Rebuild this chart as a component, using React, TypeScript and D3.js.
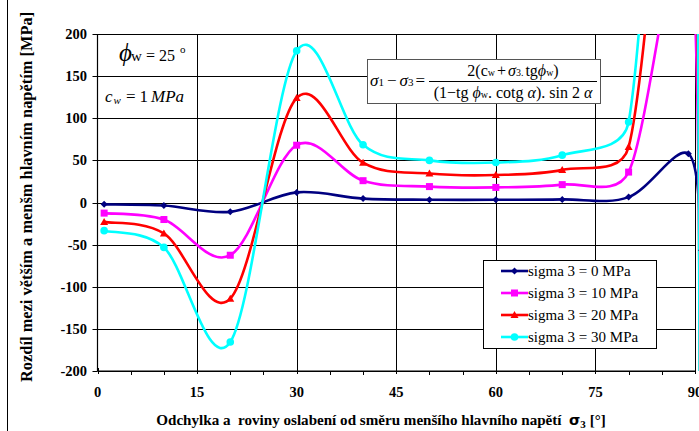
import React from "react";
import * as d3 from "d3";

const alpha = [1, 10, 20, 30, 40, 50, 60, 70, 80, 89, 91];
const sigma0 = [-2.2, -3.6, -11.1, 12.0, 4.6, 3.3, 3.2, 3.7, 6.4, 57.8, -56.8];
const sigma10 = [-12.6, -20.2, -62.6, 68.0, 25.9, 18.9, 17.9, 21.2, 36.1, 327, -322];
const sigma20 = [-23.0, -36.7, -114.1, 124.0, 47.2, 34.4, 32.6, 38.7, 65.8, 596, -587];
const sigma30 = [-33.4, -53.3, -165.6, 180.0, 68.5, 50.0, 47.4, 56.2, 95.5, 866, -852];
const seriesNames = ["sigma 3 = 0 MPa", "sigma 3 = 10 MPa", "sigma 3 = 20 MPa", "sigma 3 = 30 MPa"];
const xTicks = [0, 15, 30, 45, 60, 75, 90];
const yTicks = [-200, -150, -100, -50, 0, 50, 100, 150, 200];

const W = 699, H = 431;
const L = 97.5, R = 695, T = 34, B = 371;
const FONT = '"Liberation Serif", "Times New Roman", Tinos, "DejaVu Serif", serif';

const colors = ["#000080", "#FF00FF", "#FF0000", "#00FFFF"];
const shapes = ["diamond", "square", "triangle", "circle"];

// Excel-like smoothing: Catmull-Rom tangents, control offsets limited relative to segment length
function smoothPath(pts: [number, number][]): string {
  const p = d3.path();
  if (!pts.length) return "";
  p.moveTo(pts[0][0], pts[0][1]);
  const dist = (a: [number, number], b: [number, number]) => Math.hypot(b[0] - a[0], b[1] - a[1]);
  const limit = 0.42;
  const ctrl = (from: [number, number], tx: number, ty: number, seg: number, sign: number): [number, number] => {
    let ox = tx / 6, oy = ty / 6;
    const m = Math.hypot(ox, oy);
    const maxM = seg * limit;
    if (m > maxM && m > 0) {
      ox = (ox / m) * maxM;
      oy = (oy / m) * maxM;
    }
    return [from[0] + sign * ox, from[1] + sign * oy];
  };
  for (let i = 0; i < pts.length - 1; i++) {
    const p0 = pts[Math.max(0, i - 1)];
    const p1 = pts[i];
    const p2 = pts[i + 1];
    const p3 = pts[Math.min(pts.length - 1, i + 2)];
    const d12 = dist(p1, p2);
    const c1 = ctrl(p1, p2[0] - p0[0], p2[1] - p0[1], d12, 1);
    const c2 = ctrl(p2, p3[0] - p1[0], p3[1] - p1[1], d12, -1);
    p.bezierCurveTo(c1[0], c1[1], c2[0], c2[1], p2[0], p2[1]);
  }
  return p.toString();
}

function Marker({ shape, x, y, color }: { shape: string; x: number; y: number; color: string }) {
  if (shape === "diamond") {
    return <path d={`M${x},${y - 3.5}L${x + 3.5},${y}L${x},${y + 3.5}L${x - 3.5},${y}Z`} fill={color} />;
  }
  if (shape === "square") {
    return <rect x={x - 3.5} y={y - 3.5} width={7} height={7} fill={color} />;
  }
  if (shape === "triangle") {
    return <path d={`M${x},${y - 4}L${x + 4},${y + 3}L${x - 4},${y + 3}Z`} fill={color} />;
  }
  return <circle cx={x} cy={y} r={3.8} fill={color} />;
}

export default function App() {
  const xs = d3.scaleLinear().domain([0, 90]).range([L, R]);
  const ys = d3.scaleLinear().domain([-200, 200]).range([B, T]);
  const series = [sigma0, sigma10, sigma20, sigma30];
  const minorTicks = d3.range(0, 91, 5).filter((v) => v % 15 !== 0);

  return (
    <svg
      width={W}
      height={H}
      style={{ position: "absolute", left: 0, top: 0, background: "#fff", fontFamily: FONT }}
    >
      <defs>
        <clipPath id="plotclip">
          <rect x={L} y={T} width={W - L} height={B - T} />
        </clipPath>
      </defs>
      <rect x={0} y={0} width={W} height={H} fill="#fff" />
      <line x1={7.5} y1={0} x2={7.5} y2={H} stroke="#000" strokeWidth={1} />

      {/* grid */}
      {yTicks.map((v) => (
        <line key={"gy" + v} x1={L} x2={R} y1={Math.round(ys(v)) + 0.5} y2={Math.round(ys(v)) + 0.5} stroke="#000" strokeWidth={1} />
      ))}
      {xTicks.slice(1).map((v) => (
        <line key={"gx" + v} x1={Math.round(xs(v)) + 0.5} x2={Math.round(xs(v)) + 0.5} y1={T} y2={B} stroke="#000" strokeWidth={1} />
      ))}

      {/* axes */}
      <line x1={L} x2={L} y1={T} y2={B} stroke="#000" strokeWidth={1.2} />
      <line x1={L} x2={R} y1={B} y2={B} stroke="#000" strokeWidth={1.2} />
      {yTicks.map((v) => (
        <line key={"ty" + v} x1={L - 5} x2={L} y1={Math.round(ys(v)) + 0.5} y2={Math.round(ys(v)) + 0.5} stroke="#000" strokeWidth={1} />
      ))}
      {xTicks.map((v) => (
        <line key={"tx" + v} x1={Math.round(xs(v)) + 0.5} x2={Math.round(xs(v)) + 0.5} y1={B - 3} y2={B + 3} stroke="#000" strokeWidth={1} />
      ))}
      {minorTicks.map((v) => (
        <line key={"mx" + v} x1={Math.round(xs(v)) + 0.5} x2={Math.round(xs(v)) + 0.5} y1={B} y2={B + 4} stroke="#000" strokeWidth={1} />
      ))}

      {/* tick labels */}
      {yTicks.map((v) => (
        <text key={"ly" + v} x={87} y={ys(v) + 5} textAnchor="end" fontSize={14.5} fontWeight="bold">
          {v}
        </text>
      ))}
      {xTicks.map((v) => (
        <text key={"lx" + v} x={xs(v)} y={397} textAnchor="middle" fontSize={14.5} fontWeight="bold">
          {v}
        </text>
      ))}

      {/* series */}
      <g clipPath="url(#plotclip)">
        {series.map((s, i) => (
          <path
            key={"s" + i}
            d={smoothPath(alpha.map((a, j) => [xs(a), ys(s[j])] as [number, number]))}
            fill="none"
            stroke={colors[i]}
            strokeWidth={2.6}
          />
        ))}
        {series.map((s, i) =>
          alpha.map((a, j) => (
            <Marker key={"m" + i + "-" + j} shape={shapes[i]} x={xs(a)} y={ys(s[j])} color={colors[i]} />
          ))
        )}
      </g>

      {/* annotation top-left */}
      <text x={119} y={61} fontSize={25} fontStyle="italic">ϕ</text>
      <text x={131} y={61} fontSize={15}>w</text>
      <text x={146} y={61} fontSize={16}>= 25</text>
      <text x={180} y={53} fontSize={11}>o</text>
      <text x={105} y={102} fontSize={17} fontStyle="italic">c</text>
      <text x={113.5} y={104} fontSize={11} fontStyle="italic">w</text>
      <text x={126} y={102} fontSize={17}>=</text>
      <text x={139.5} y={102} fontSize={17}>1</text>
      <text x={151} y={102} fontSize={17} fontStyle="italic">MPa</text>

      {/* formula box */}
      <rect x={367.5} y={59.5} width={233} height={44} fill="#fff" stroke="#555" strokeWidth={1} />
      <text x={370} y={86} fontSize={17}>
        <tspan fontStyle="italic">σ</tspan>
        <tspan fontSize={11}>1</tspan>
        <tspan dx={3}>−</tspan>
        <tspan dx={3} fontStyle="italic">σ</tspan>
        <tspan fontSize={11}>3</tspan>
        <tspan dx={2}>=</tspan>
      </text>
      <line x1={429} x2={597} y1={81.5} y2={81.5} stroke="#000" strokeWidth={1} />
      <text x={513} y={76} fontSize={16} textAnchor="middle">
        <tspan>2(</tspan>
        <tspan>c</tspan>
        <tspan fontSize={10}>w</tspan>
        <tspan dx={2}>+</tspan>
        <tspan dx={2} fontStyle="italic">σ</tspan>
        <tspan fontSize={10}>3.</tspan>
        <tspan dx={2}>tg</tspan>
        <tspan fontStyle="italic">ϕ</tspan>
        <tspan fontSize={10}>w</tspan>
        <tspan>)</tspan>
      </text>
      <text x={513} y={98} fontSize={16} textAnchor="middle">
        <tspan>(1−tg </tspan>
        <tspan fontStyle="italic">ϕ</tspan>
        <tspan fontSize={10}>w</tspan>
        <tspan>. cotg </tspan>
        <tspan fontStyle="italic">α</tspan>
        <tspan>). sin 2 </tspan>
        <tspan fontStyle="italic">α</tspan>
      </text>

      {/* legend */}
      <rect x={483.5} y={260.5} width={173} height={88} fill="#fff" stroke="#000" strokeWidth={1} />
      {seriesNames.map((n, i) => {
        const cy = 271 + i * 22;
        return (
          <g key={"lg" + i}>
            <line x1={501} x2={528} y1={cy} y2={cy} stroke={colors[i]} strokeWidth={2.6} />
            <Marker shape={shapes[i]} x={514.5} y={cy} color={colors[i]} />
            <text x={528} y={cy + 5} fontSize={15}>
              {n}
            </text>
          </g>
        );
      })}

      {/* axis titles */}
      <text x={381} y={425} textAnchor="middle" fontSize={15.1} fontWeight="bold">
        <tspan>{"Odchylka a\u00a0 roviny oslabení od směru menšího hlavního napětí\u00a0 "}</tspan>
        <tspan fontFamily="'DejaVu Sans', sans-serif" fontSize={14.5}>σ</tspan>
        <tspan fontSize={11} dy={3}>3</tspan>
        <tspan dy={-3}> [°]</tspan>
      </text>
      <text transform="translate(32,382) rotate(-90)" fontSize={16.4} fontWeight="bold">
        Rozdíl mezi větším a menšm hlavním napětím [MPa]
      </text>
    </svg>
  );
}
